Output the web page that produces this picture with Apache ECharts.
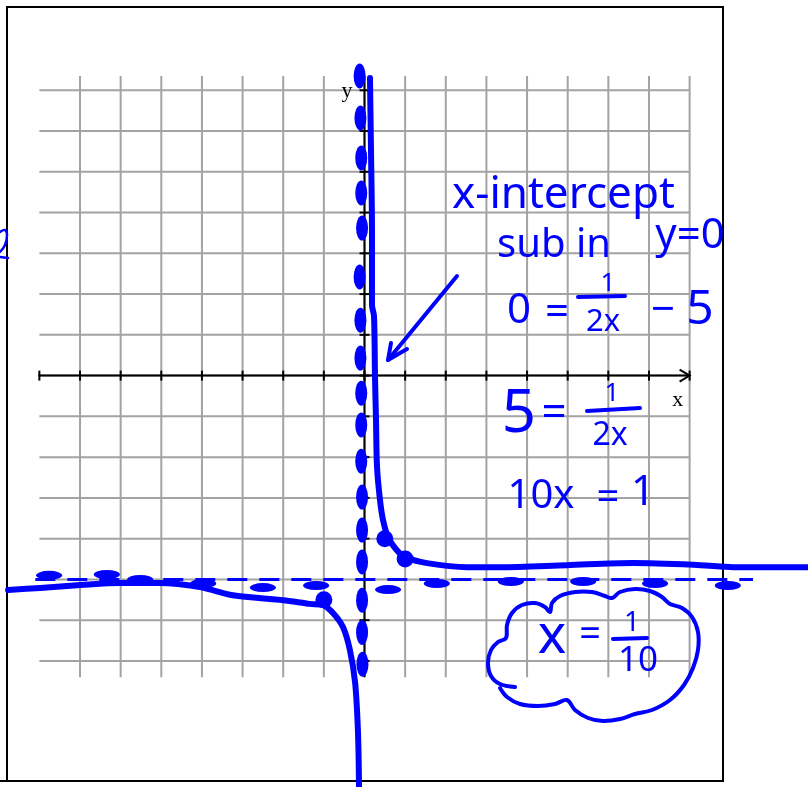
<!DOCTYPE html>
<html>
<head>
<meta charset="utf-8">
<script src="https://cdn.jsdelivr.net/npm/echarts@6/dist/echarts.min.js"></script>
<style>
  html, body { margin: 0; padding: 0; background: #fff; }
  #chart { width: 808px; height: 787px; }
</style>
</head>
<body>
<div id="chart"></div>
<script>
// Axis ticks and grid lines (graph units)
const xTicks = [-8, -7, -6, -5, -4, -3, -2, -1, 0, 1, 2, 3, 4, 5, 6, 7, 8];
const yTicks = [-7, -6, -5, -4, -3, -2, -1, 0, 1, 2, 3, 4, 5, 6, 7];
const vGridX = [-7, -6, -5, -4, -3, -2, -1, 0, 1, 2, 3, 4, 5, 6, 7, 8];
const hGridY = [-7, -6, -5, -4, -3, -2, -1, 0, 1, 2, 3, 4, 5, 6, 7];
const gridXRange = [-8, 8];
const gridYRange = [-7.4, 7.35];

// Sketched branches of y = 1/(2x) - 5
const rightBranch = [
  [0.135, 7.30], [0.160, 5.53], [0.184, 3.57], [0.184, 1.73], [0.234, 1.46],
  [0.258, 0], [0.283, -1.09], [0.308, -2.24], [0.381, -3.05], [0.455, -3.54],
  [0.578, -3.96], [0.775, -4.26], [0.997, -4.45], [1.54, -4.60], [2.52, -4.70],
  [3.33, -4.70], [4.98, -4.65], [6.61, -4.60], [8.26, -4.65], [9.07, -4.70], [10.91, -4.70]
];
const leftBranch = [
  [-8.77, -5.26], [-7.98, -5.21], [-6.99, -5.14], [-6.0, -5.09], [-5.03, -5.09],
  [-4.05, -5.19], [-3.24, -5.39], [-2.0, -5.51], [-1.34, -5.60], [-1.02, -5.63],
  [-0.78, -5.82], [-0.53, -6.17], [-0.36, -6.73], [-0.23, -7.54], [-0.16, -8.76], [-0.135, -10.09]
];
// Plotted points on the curve
const plottedPoints = [[0.5, -4], [1, -4.5], [-1, -5.5]];

// Asymptotes x = 0 and y = -5 (sketched dashes)
const asymptoteY = -5;
const hAsymSpan = [-8.1, 9.56];
const hAsymDashes = [
  [-7.76, -4.9], [-6.34, -4.88], [-5.52, -5.0], [-3.97, -5.1], [-2.50, -5.2], [-1.19, -5.15],
  [0.58, -5.25], [1.78, -5.1], [3.6, -5.05], [5.38, -5.05], [7.15, -5.1], [8.94, -5.15]
];
const vAsymDashes = [
  [-0.12, 7.35], [-0.10, 6.32], [-0.08, 5.34], [-0.08, 4.48], [-0.06, 3.62], [-0.12, 2.42],
  [-0.10, 1.36], [-0.10, 0.43], [-0.08, -0.43], [-0.08, -1.21], [-0.08, -2.10], [-0.06, -2.98],
  [-0.06, -3.79], [-0.06, -4.57], [-0.06, -5.51], [-0.06, -6.30], [-0.05, -7.08]
];

const BLUE = '#0000fe';
const HAND = '"Noto Sans", sans-serif';
const SERIF = '"Liberation Serif", "DejaVu Serif", serif';

const chart = echarts.init(document.getElementById('chart'), null, { renderer: 'canvas' });

function seg(a, b, stroke, w) {
  return { type: 'line', shape: { x1: a[0], y1: a[1], x2: b[0], y2: b[1] },
           style: { stroke: stroke, lineWidth: w } };
}

function handText(text, x, y, size, align) {
  return { type: 'text', z: 120,
    style: { text: text, x: x, y: y, font: 'normal ' + size + 'px ' + HAND,
             fill: BLUE, align: align || 'center', verticalAlign: 'middle' } };
}
function handLine(points, w, smooth) {
  return { type: 'polyline', z: 120,
    shape: { points: points, smooth: smooth || 0 },
    style: { stroke: BLUE, lineWidth: w || 3.5, fill: null, lineCap: 'round', lineJoin: 'round' } };
}

const option = {
  animation: false,
  backgroundColor: '#fff',
  grid: { left: 0, right: 0, top: 0, bottom: 0 },
  xAxis: { type: 'value', min: -8.969, max: 10.913, show: false },
  yAxis: { type: 'value', min: -10.093, max: 9.215, show: false },
  series: [
    // gray grid
    {
      type: 'custom', silent: true, z: 1, clip: false,
      data: [0],
      renderItem: function (params, api) {
        const children = [];
        hGridY.forEach(function (y) {
          children.push(seg(api.coord([gridXRange[0], y]), api.coord([gridXRange[1], y]), '#a3a3a3', 2));
        });
        vGridX.forEach(function (x) {
          children.push(seg(api.coord([x, gridYRange[1]]), api.coord([x, gridYRange[0]]), '#a3a3a3', 2));
        });
        return { type: 'group', children: children };
      }
    },
    // black axes with ticks
    {
      type: 'custom', silent: true, z: 2, clip: false,
      data: [0],
      renderItem: function (params, api) {
        const c = [];
        const xa = api.coord([xTicks[0], 0]);
        const xb = api.coord([xTicks[xTicks.length - 1], 0]);
        c.push(seg([xa[0] - 1, xa[1]], xb, '#000', 2));
        xTicks.forEach(function (v) {
          const p = api.coord([v, 0]);
          c.push(seg([p[0], p[1] - 5], [p[0], p[1] + 5], '#000', 2));
        });
        c.push({ type: 'polyline',
          shape: { points: [[xb[0] - 10, xb[1] - 6], [xb[0], xb[1]], [xb[0] - 10, xb[1] + 6]] },
          style: { stroke: '#000', lineWidth: 2, fill: null } });
        const ya = api.coord([0, gridYRange[1]]);
        const yb = api.coord([0, gridYRange[0]]);
        c.push(seg(ya, yb, '#000', 2));
        yTicks.forEach(function (v) {
          const p = api.coord([0, v]);
          c.push(seg([p[0] - 5, p[1]], [p[0] + 5, p[1]], '#000', 2));
        });
        const xl = api.coord([7.71, -0.6]);
        const yl = api.coord([-0.43, 6.97]);
        c.push({ type: 'text', style: { text: 'x', x: xl[0], y: xl[1], font: '22px ' + SERIF,
                 fill: '#000', align: 'center', verticalAlign: 'middle' } });
        c.push({ type: 'text', style: { text: 'y', x: yl[0], y: yl[1], font: '22px ' + SERIF,
                 fill: '#000', align: 'center', verticalAlign: 'middle' } });
        return { type: 'group', children: c };
      }
    },
    // horizontal asymptote y = -5
    {
      type: 'line', z: 3, clip: false, silent: true, showSymbol: false,
      data: hAsymSpan.map(function (x) { return [x, asymptoteY]; }),
      lineStyle: { color: BLUE, width: 3, type: [20, 12], opacity: 1 }
    },
    {
      type: 'scatter', z: 3, clip: false, silent: true,
      data: hAsymDashes, symbol: 'circle', symbolSize: [26, 9],
      itemStyle: { color: BLUE, opacity: 1 }
    },
    // vertical asymptote x = 0
    {
      type: 'scatter', z: 3, clip: false, silent: true,
      data: vAsymDashes, symbol: 'circle', symbolSize: [12, 25],
      itemStyle: { color: BLUE, opacity: 1 }
    },
    // the two branches
    {
      type: 'line', z: 4, clip: false, silent: true, showSymbol: false, smooth: 0.3,
      data: rightBranch,
      lineStyle: { color: BLUE, width: 6, cap: 'round', join: 'round', opacity: 1 }
    },
    {
      type: 'line', z: 4, clip: false, silent: true, showSymbol: false, smooth: 0.3,
      data: leftBranch,
      lineStyle: { color: BLUE, width: 6, cap: 'round', join: 'round', opacity: 1 }
    },
    {
      type: 'scatter', z: 5, clip: false, silent: true,
      data: plottedPoints, symbol: 'circle', symbolSize: 17,
      itemStyle: { color: BLUE, opacity: 1 }
    }
  ],
  graphic: [
    // page frame
    { type: 'rect', z: 0, shape: { x: 7, y: 7, width: 716, height: 774 },
      style: { stroke: '#000', lineWidth: 2, fill: null } },
    { type: 'line', z: 0, shape: { x1: 0, y1: 781, x2: 8, y2: 781 },
      style: { stroke: '#000', lineWidth: 2 } },

    // working for the x-intercept
    handText('x-intercept', 452, 195, 44, 'left'),
    handText('sub in', 497, 246, 40, 'left'),
    handText('y=0', 690, 236, 42),
    handText('0', 519, 311, 42),
    handText('=', 557, 313, 42),
    handLine([[578, 297], [625, 296]], 4),
    handText('1', 608, 284, 26),
    handText('2x', 603, 322, 31),
    handText('\u2212', 663, 311, 42),
    handText('5', 700, 310, 48),

    handText('5', 519, 415, 60),
    handText('=', 554, 414, 44),
    handLine([[587, 411], [640, 408]], 4),
    handText('1', 612, 394, 26),
    handText('2x', 610, 436, 32),

    handText('10x', 541, 497, 40),
    handText('=', 608, 499, 40),
    handText('1', 643, 493, 42),

    // boxed answer
    handText('x', 552, 638, 54),
    handText('=', 590, 635, 38),
    handLine([[613, 639], [647, 638]], 4),
    handText('1', 632, 623, 28),
    handText('10', 638, 661, 35),
    handLine([
      [515, 687], [500, 684], [491, 676], [488, 663], [491, 650], [498, 642], [506, 638],
      [507, 625], [512, 613], [522, 605], [535, 603], [545, 607], [550, 612],
      [552, 603], [560, 596], [575, 592], [592, 592], [605, 596], [612, 598],
      [620, 592], [635, 589], [650, 591], [662, 597], [670, 604],
      [682, 608], [692, 617], [698, 632], [698, 650], [693, 668], [684, 685],
      [670, 700], [652, 710], [635, 714], [620, 719], [603, 721], [588, 718],
      [575, 710], [567, 700], [555, 704], [538, 706], [520, 704], [507, 697], [500, 688]
    ], 4, 0.35),

    // pointer to the x-intercept
    handLine([[457, 276], [388, 360]], 4),
    handLine([[391, 343], [388, 360], [407, 349]], 4),

    // clipped glyph at the left edge
    handLine([[0, 232], [5, 230], [7, 235], [5, 245], [0, 252]], 2.5, 0.4),
    handLine([[0, 257], [8, 258]], 2.5)
  ]
};

chart.setOption(option);
</script>
</body>
</html>
